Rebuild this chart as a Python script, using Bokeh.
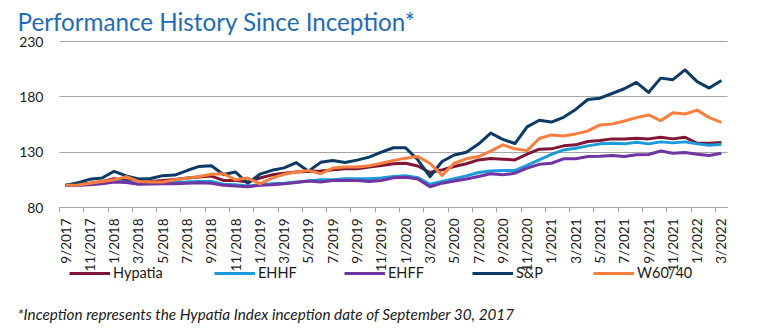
import math
from bokeh.plotting import figure
from bokeh.models import FixedTicker, Label, Legend, LegendItem, Range1d
from bokeh.embed import file_html
from bokeh.resources import INLINE

months = ["9/2017", "10/2017", "11/2017", "12/2017", "1/2018", "2/2018", "3/2018", "4/2018",
          "5/2018", "6/2018", "7/2018", "8/2018", "9/2018", "10/2018", "11/2018", "12/2018",
          "1/2019", "2/2019", "3/2019", "4/2019", "5/2019", "6/2019", "7/2019", "8/2019",
          "9/2019", "10/2019", "11/2019", "12/2019", "1/2020", "2/2020", "3/2020", "4/2020",
          "5/2020", "6/2020", "7/2020", "8/2020", "9/2020", "10/2020", "11/2020", "12/2020",
          "1/2021", "2/2021", "3/2021", "4/2021", "5/2021", "6/2021", "7/2021", "8/2021",
          "9/2021", "10/2021", "11/2021", "12/2021", "1/2022", "2/2022", "3/2022"]

hypatia = [100, 101, 102, 103.6, 106, 104.5, 103, 103.6, 104.5, 105.4, 106.6, 107.5, 108.4,
           104.5, 104.5, 103, 106.6, 109.5, 111, 112, 112.5, 113, 114, 115, 115, 116.5, 118,
           119.5, 120, 117.5, 111.6, 114, 117, 119.5, 123, 124.2, 123.7, 123, 128.2, 132.7,
           133, 135.7, 136.6, 139.6, 140.5, 142, 142, 142.6, 142, 143.5, 142, 143.5, 138,
           138, 138.7]
ehhf = [100, 100.3, 101, 102, 104, 103, 102, 102, 102.5, 102.5, 103, 103.5, 103.5, 101,
        100.5, 99.5, 100.5, 101.4, 102, 103, 104, 105, 105, 106, 106, 106, 106.6, 108, 108.6,
        107, 101, 103.5, 106, 108.6, 111.6, 113, 113.4, 113.5, 118, 123, 128, 132, 133.6,
        135.7, 137.5, 138, 137.5, 139, 137.5, 139.3, 138.4, 139.3, 137.5, 136.3, 137.2]
ehff = [100, 100, 100.5, 101.5, 103, 102.5, 101, 101.2, 101.5, 101.5, 102, 102.4, 102, 100,
        99.5, 98.7, 100, 100.5, 101.4, 102.6, 104, 103, 104.4, 104.4, 104.4, 103.5, 104.4,
        106.8, 107.3, 105.7, 98.8, 102, 104, 105.7, 108, 110.5, 109.5, 111, 115.6, 119, 120,
        124, 124, 126, 126.3, 127, 126, 127.6, 127.9, 131, 129, 129.6, 128.2, 127, 129]
sp = [100, 102.3, 105.5, 106.6, 112.7, 108.6, 105.8, 106.2, 108.8, 109.3, 113.4, 117.1,
      117.8, 109.8, 112.0, 101.9, 110.1, 113.6, 115.8, 120.5, 112.8, 120.8, 122.5, 120.6,
      122.8, 125.5, 130.0, 134.0, 133.9, 123.1, 107.8, 121.6, 127.4, 130.0, 137.3, 147.2,
      141.6, 137.8, 152.9, 158.8, 157.2, 161.5, 168.6, 177.6, 178.8, 183.0, 187.3, 193.0,
      184.0, 196.9, 195.5, 204.3, 193.7, 187.9, 194.8]
w6040 = [100, 100.3, 102, 103.5, 105, 107.8, 103.5, 103, 103, 105, 106.5, 108, 110, 110.5,
         105, 106.6, 101.4, 106.5, 110, 112, 113.5, 110.5, 115.6, 116.5, 116.5, 117.7, 120,
         122.5, 124.6, 126, 120, 109, 120, 124, 126, 131, 136.6, 133, 131.4, 142.3, 145.6,
         144.7, 146.5, 149.2, 154.6, 155.5, 158.2, 161.2, 163.6, 158.5, 165.7, 164.5, 168,
         161.2, 157]

series_names = ["Hypatia", "EHHF", "EHFF", "S&P", "W60/40"]
series_values = [hypatia, ehhf, ehff, sp, w6040]
colors = ["#7F1637", "#1B9BDA", "#7134A3", "#0B3A66", "#FA7F3E"]
y_ticks = [80, 130, 180, 230]

FONT = "Lato"
TXT = "#1A1A1A"
GRID = "#A6A6A6"

# canvas / plot-area geometry (pixels)
W, H = 762, 331
PL, PR, PT, PB = 59, 727, 41, 207

n = len(months)
x = list(range(n))
xmin, xmax = -0.5, n - 0.5
ymin, ymax = y_ticks[0], y_ticks[-1]
xs = (PR - PL) / (xmax - xmin)
ys = (PB - PT) / (ymax - ymin)

p = figure(width=W, height=H, output_backend="svg", toolbar_location=None, title=None,
           x_range=Range1d(xmin - PL / xs, xmax + (W - PR) / xs),
           y_range=Range1d(ymin - (H - PB) / ys, ymax + PT / ys),
           min_border=0, min_border_left=0, min_border_right=0,
           min_border_top=0, min_border_bottom=0)
p.outline_line_color = None
p.background_fill_color = "white"
p.border_fill_color = "white"

# y axis
p.yaxis.fixed_location = xmin
p.yaxis.bounds = (ymin, ymax)
p.yaxis.ticker = FixedTicker(ticks=y_ticks)
p.yaxis.axis_line_color = None
p.yaxis.major_tick_line_color = None
p.yaxis.minor_tick_line_color = None
p.yaxis.major_tick_out = 0
p.yaxis.major_tick_in = 0
p.yaxis.major_label_standoff = 16
p.yaxis.major_label_text_font = FONT
p.yaxis.major_label_text_font_size = "14px"
p.yaxis.major_label_text_color = TXT

# x axis
label_pos = x[::2]
p.xaxis.fixed_location = ymin
p.xaxis.bounds = (xmin, xmax)
p.xaxis.ticker = FixedTicker(ticks=label_pos, minor_ticks=[v - 0.5 for v in label_pos])
p.xaxis.major_label_overrides = {v: months[v] for v in label_pos}
p.xaxis.major_label_orientation = math.pi / 2
p.xaxis.major_tick_line_color = None
p.xaxis.major_tick_out = 0
p.xaxis.major_tick_in = 0
p.xaxis.minor_tick_line_color = GRID
p.xaxis.minor_tick_out = 5
p.xaxis.minor_tick_in = 0
p.xaxis.axis_line_color = GRID
p.xaxis.major_label_standoff = 6
p.xaxis.major_label_text_font = FONT
p.xaxis.major_label_text_font_size = "13.5px"
p.xaxis.major_label_text_color = TXT

p.xgrid.visible = False
p.ygrid.ticker = FixedTicker(ticks=y_ticks)
p.ygrid.cross_bounds = (xmin, xmax)
p.ygrid.grid_line_color = GRID
p.ygrid.grid_line_width = 1

renderers = []
for vals, col in zip(series_values, colors):
    r = p.line(x, vals, line_color=col, line_width=3, line_join="round")
    renderers.append(r)

legend_x = [69, 214, 344, 472, 593]
for name, r, lx in zip(series_names, renderers, legend_x):
    leg = Legend(items=[LegendItem(label=name, renderers=[r])], location=(lx, H - 281),
                 orientation="horizontal", glyph_width=41, glyph_height=16, label_height=16,
                 label_standoff=3, padding=0, margin=0, spacing=0,
                 border_line_color=None, background_fill_alpha=0,
                 label_text_font=FONT, label_text_font_size="14.5px", label_text_color=TXT)
    p.add_layout(leg)

p.add_layout(Label(x=17, y=H - 21, x_units="screen", y_units="screen",
                   text="Performance History Since Inception*", text_font=FONT,
                   text_font_size="24.2px", text_color="#1F6BB5", text_baseline="alphabetic"))
p.add_layout(Label(x=17, y=H - 313, x_units="screen", y_units="screen",
                   text="*Inception represents the Hypatia Index inception date of September 30, 2017",
                   text_font=FONT, text_font_style="italic", text_font_size="15.3px",
                   text_color=TXT, text_baseline="alphabetic"))

open("out.html", "w").write(file_html(p, INLINE))
